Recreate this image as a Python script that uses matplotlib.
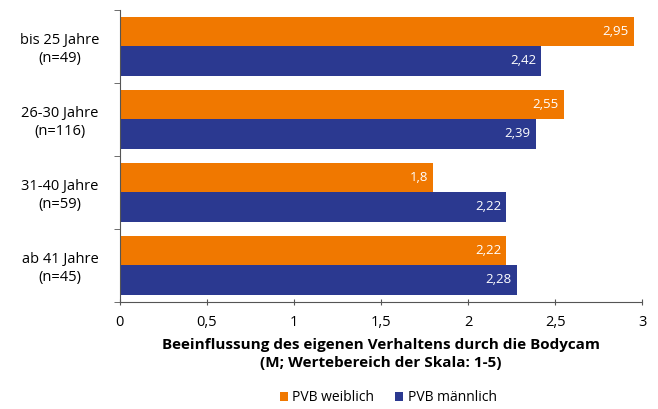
import matplotlib.pyplot as plt
import numpy as np

categories = ["bis 25 Jahre\n(n=49)", "26-30 Jahre\n(n=116)", "31-40 Jahre\n(n=59)", "ab 41 Jahre\n(n=45)"]
weiblich = [2.95, 2.55, 1.8, 2.22]
maennlich = [2.42, 2.39, 2.22, 2.28]
xticks = [0, 0.5, 1, 1.5, 2, 2.5, 3]
xticklabels = ["0", "0,5", "1", "1,5", "2", "2,5", "3"]

orange = "#f07800"
blue = "#2b3990"

plt.rcParams['font.family'] = ['Open Sans', 'DejaVu Sans']

fig = plt.figure(figsize=(6.58, 4.09), dpi=100)
ax = fig.add_axes([0.182, 0.262, 0.794, 0.714])

y = np.arange(len(categories))
h = 0.4
b1 = ax.barh(y - h / 2, weiblich, height=h, color=orange, label="PVB weiblich")
b2 = ax.barh(y + h / 2, maennlich, height=h, color=blue, label="PVB männlich")

for bars, vals in [(b1, weiblich), (b2, maennlich)]:
    for bar, v in zip(bars, vals):
        txt = f"{v:g}".replace(".", ",")
        ax.text(bar.get_width() - 0.03, bar.get_y() + bar.get_height() / 2, txt,
                ha="right", va="center", color="white", fontsize=9.5)

ax.set_ylim(len(categories) - 0.5, -0.5)
ax.set_xlim(0, 3)
ax.set_yticks(y)
ax.set_yticklabels(categories, fontsize=10.5, ha="center")
ax.tick_params(axis="y", length=0, pad=43)
ax.set_yticks(np.arange(len(categories) + 1) - 0.5, minor=True)
ax.tick_params(axis="y", which="minor", length=4, color="#555555")
ax.set_xticks(xticks)
ax.set_xticklabels(xticklabels, fontsize=10.5)
ax.tick_params(axis="x", direction="inout", length=5, color="#555555", pad=7)

for s in ["top", "right"]:
    ax.spines[s].set_visible(False)
for s in ["left", "bottom"]:
    ax.spines[s].set_color("#555555")

ax.set_xlabel("Beeinflussung des eigenen Verhaltens durch die Bodycam\n(M; Wertebereich der Skala: 1-5)",
              fontsize=11, fontweight="bold", labelpad=6, linespacing=1.3)

fig.legend(handles=[b1, b2], loc="center", bbox_to_anchor=(0.59, 0.027), ncol=2,
           frameon=False, fontsize=10, handlelength=0.6, handleheight=0.6,
           handletextpad=0.3, columnspacing=1.5)

fig.savefig("out.png", dpi=100)
